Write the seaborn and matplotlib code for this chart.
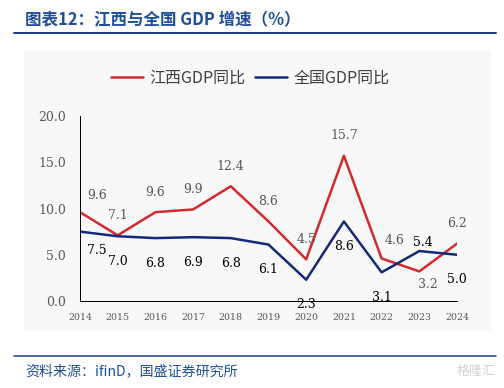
import pandas as pd
import matplotlib.pyplot as plt
import matplotlib.patches as mpatches
import seaborn as sns

sns.set_style("white")
plt.rcParams['font.family'] = ['Noto Sans CJK SC', 'DejaVu Sans']

years = [2014, 2015, 2016, 2017, 2018, 2019, 2020, 2021, 2022, 2023, 2024]
jiangxi = [9.6, 7.1, 9.6, 9.9, 12.4, 8.6, 4.5, 15.7, 4.6, 3.2, 6.2]
national = [7.5, 7.0, 6.8, 6.9, 6.8, 6.1, 2.3, 8.6, 3.1, 5.4, 5.0]
series_names = ['江西GDP同比', '全国GDP同比']
yticks = [0, 5, 10, 15, 20]

df = pd.DataFrame({'年份': years * 2,
                   '增速': jiangxi + national,
                   '系列': [series_names[0]] * len(years) + [series_names[1]] * len(years)})

red = '#d42a2f'
navy = '#142a78'
num_font = 'DejaVu Serif'

fig = plt.figure(figsize=(7, 388 / 72), dpi=72)
# light gray panel behind the chart
fig.patches.append(mpatches.Rectangle((24 / 504, 1 - 330 / 388), 466 / 504, 280 / 388,
                                      transform=fig.transFigure, color='#f8f8f8', zorder=-1))
ax = fig.add_axes([80 / 504, 87 / 388, 377 / 504, 185 / 388])
ax.set_facecolor('none')
ax.set_zorder(2)

sns.lineplot(data=df, x='年份', y='增速', hue='系列', palette=[red, navy],
             linewidth=2.5, ax=ax, legend=False)

ax.set_xlim(2014, 2024)
ax.set_ylim(0, 20)
ax.set_xticks(years)
ax.set_xticklabels([str(y) for y in years], fontsize=9.5, color='#595959', family=num_font)
ax.set_yticks(yticks)
ax.set_yticklabels([f'{v:.1f}' for v in yticks], fontsize=12.5, color='#595959', family=num_font)
ax.set_xlabel('')
ax.set_ylabel('')
ax.tick_params(axis='both', direction='in', length=5, width=1, color='black')
ax.tick_params(axis='y', pad=14)
ax.tick_params(axis='x', pad=12)
for s in ['top', 'right']:
    ax.spines[s].set_visible(False)
for s in ['left', 'bottom']:
    ax.spines[s].set_color('black')
    ax.spines[s].set_linewidth(1)

# label offsets (points)
jx_off = {0: (17, 17), 1: (0, 20), 8: (13, 18), 9: (9, -13)}
nt_off = {0: (17, -19), 9: (4, 9)}
for i, (x, y) in enumerate(zip(years, jiangxi)):
    dx, dy = jx_off.get(i, (0, 20))
    ax.annotate(f'{y:.1f}', (x, y), xytext=(dx, dy), textcoords='offset points',
                ha='center', va='center', fontsize=12.5, color='#595959', family=num_font,
                annotation_clip=False)
for i, (x, y) in enumerate(zip(years, national)):
    dx, dy = nt_off.get(i, (0, -25))
    ax.annotate(f'{y:.1f}', (x, y), xytext=(dx, dy), textcoords='offset points',
                ha='center', va='center', fontsize=12.5, color='black', family=num_font,
                annotation_clip=False)

# legend
handles = [plt.Line2D([], [], color=red, lw=2.5), plt.Line2D([], [], color=navy, lw=2.5)]
fig.legend(handles, series_names, loc='center', bbox_to_anchor=(250 / 504, 1 - 78 / 388),
           ncol=2, frameon=False, fontsize=16, handlelength=2.0, columnspacing=0.6,
           handletextpad=0.4, labelcolor='#404040')

# title and source
fig.text(25 / 504, 1 - 20 / 388, '图表12：江西与全国 GDP 增速（%）', fontsize=16.5,
         fontweight='bold', style='italic', color='#1f4e9a', va='center', ha='left')
fig.add_artist(plt.Line2D([14 / 504, 496 / 504], [1 - 33 / 388] * 2, color='#1f3f7a', lw=2))
fig.add_artist(plt.Line2D([14 / 504, 496 / 504], [1 - 356 / 388] * 2, color='#1f3f7a', lw=1.5))
fig.text(25 / 504, 1 - 371 / 388, '资料来源：ifinD，国盛证券研究所', fontsize=14,
         style='italic', color='#1f4e9a', va='center', ha='left')
fig.text(496 / 504, 1 - 371 / 388, '格隆汇', fontsize=13, color='#d0d0d0',
         va='center', ha='right')

fig.savefig('out.png', dpi=72)
